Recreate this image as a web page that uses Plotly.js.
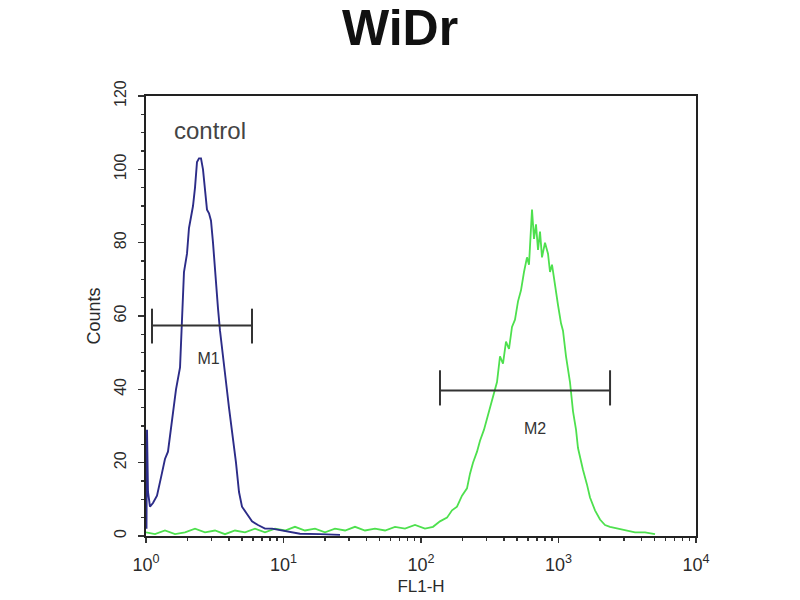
<!DOCTYPE html>
<html>
<head>
<meta charset="utf-8">
<script src="https://cdn.plot.ly/plotly-3.0.1.min.js"></script>
<style>html,body{margin:0;padding:0;background:#fff;}#chart{width:800px;height:600px;}</style>
</head>
<body>
<div id="chart"></div>
<script>
// Control histogram (blue)
var controlX = [1.008, 1.017, 1.034, 1.069, 1.124, 1.202, 1.286, 1.374, 1.445, 1.546, 1.653, 1.768, 1.827, 1.889, 1.987, 2.054, 2.125, 2.197, 2.272, 2.349, 2.429, 2.512, 2.597, 2.686, 2.777, 2.872, 2.970, 3.071, 3.175, 3.340, 3.453, 3.631, 3.818, 4.014, 4.293, 4.513, 4.747, 4.991, 5.427, 5.902, 6.524, 7.336, 8.250, 9.430, 11.15, 13.18, 18.43, 25.76];
var controlY = [2, 29, 12, 8, 9, 11, 16, 21, 23, 32, 40, 46, 60, 72, 77, 84, 87, 90, 95, 102, 103, 103, 100, 95, 89, 88, 86, 80, 72, 62, 56, 48, 42, 35, 27, 20, 12, 8, 6, 4, 3, 2, 2, 1.6, 1, 0.6, 0.5, 0.3];

// Sample histogram (green)
var sampleX = [1.00, 1.163, 1.374, 1.625, 1.921, 2.272, 2.686, 3.175, 3.754, 4.438, 5.248, 6.204, 7.336, 8.675, 10.25, 12.12, 14.33, 16.95, 20.04, 23.69, 28.02, 33.11, 39.15, 46.29, 54.73, 64.71, 76.48, 90.44, 106.9, 122.3, 137.4, 154.6, 168.1, 182.7, 198.7, 216.0, 227.2, 238.9, 255.5, 268.6, 287.2, 302.0, 317.6, 333.9, 357.1, 375.4, 394.8, 415.1, 436.5, 459.0, 482.6, 507.6, 533.7, 561.2, 590.1, 610.2, 631.0, 641.7, 663.5, 686.2, 709.5, 733.7, 758.6, 797.7, 838.9, 867.5, 897.0, 943.0, 991.7, 1043, 1078, 1134, 1173, 1212, 1275, 1341, 1386, 1458, 1508, 1612, 1695, 1843, 2004, 2179, 2369, 2709, 3150, 3601, 4257, 5033];
var sampleY = [1, 0.5, 1.5, 0.5, 1, 2, 1, 1.5, 0.5, 1.5, 1, 2, 1, 2, 1.5, 2.5, 1.5, 2, 1, 2, 1.5, 2.5, 1.5, 2, 1.5, 2.5, 2, 3, 2, 2.5, 4, 5, 7, 8, 11, 13, 17, 20, 23, 26, 29, 32, 35, 38, 42, 49, 47, 53, 51, 57, 59, 64, 67, 72, 76, 74, 84, 89, 81, 85, 78, 83, 76, 80, 77, 72, 74, 68, 63, 58, 56, 49, 46, 42, 34, 29, 24, 20, 18, 14, 10.5, 7, 4.5, 3, 2.5, 2, 1.5, 1, 1, 0.5];

// Marker gates
var m1Range = [1.106, 5.90];
var m1Level = 57.4;
var m1Cap = [52.5, 62];
var m2Range = [137.4, 2371];
var m2Level = 39.7;
var m2Cap = [35.6, 45.2];

var gateLabels = ['M1', 'M2'];
var gateLabelX = [2.85, 675];
var gateLabelY = [48, 29];

var xTickVals = [1, 10, 100, 1000, 10000];
var xTickText = ['10<sup>0</sup>', '10<sup>1</sup>', '10<sup>2</sup>', '10<sup>3</sup>', '10<sup>4</sup>'];

function gate(r, lvl, cap) {
  return {
    x: [r[0], r[1], null, r[0], r[0], null, r[1], r[1]],
    y: [lvl, lvl, null, cap[0], cap[1], null, cap[0], cap[1]]
  };
}
var g1 = gate(m1Range, m1Level, m1Cap);
var g2 = gate(m2Range, m2Level, m2Cap);

var FONT = 'Liberation Sans, Arial, sans-serif';

var traces = [
  {x: sampleX, y: sampleY, type: 'scatter', mode: 'lines', line: {color: '#4ee04e', width: 1.8}, hoverinfo: 'skip'},
  {x: controlX, y: controlY, type: 'scatter', mode: 'lines', line: {color: '#2c2c88', width: 1.9}, hoverinfo: 'skip'},
  {x: g1.x, y: g1.y, type: 'scatter', mode: 'lines', line: {color: '#333', width: 2}, connectgaps: false, hoverinfo: 'skip'},
  {x: g2.x, y: g2.y, type: 'scatter', mode: 'lines', line: {color: '#333', width: 2}, connectgaps: false, hoverinfo: 'skip'},
  {x: gateLabelX, y: gateLabelY, type: 'scatter', mode: 'text',
   text: gateLabels, textfont: {family: FONT, size: 16, color: '#333'}, hoverinfo: 'skip'}
];

var layout = {
  width: 800, height: 600,
  margin: {l: 146, r: 104, t: 96, b: 64},
  paper_bgcolor: '#fff', plot_bgcolor: '#fff',
  showlegend: false,
  title: {text: '<b>WiDr</b>', x: 0.5, xanchor: 'center', y: 0.955, yanchor: 'middle',
          font: {family: FONT, size: 50, color: '#111'}},
  font: {family: FONT, color: '#333'},
  xaxis: {
    type: 'log', range: [0, 4],
    tickvals: xTickVals, ticktext: xTickText,
    ticks: 'outside', ticklen: 5, tickcolor: '#333', tickwidth: 1.5,
    ticklabelstandoff: 6,
    minor: {ticks: 'outside', ticklen: 3, tickcolor: '#333', dtick: 'D1'},
    showline: true, linecolor: '#222', linewidth: 2, mirror: true,
    showgrid: false, zeroline: false,
    tickfont: {family: FONT, size: 18, color: '#2a2a2a'},
    title: {text: 'FL1-H', font: {family: FONT, size: 17, color: '#2a2a2a'}, standoff: 7}
  },
  yaxis: {
    range: [0, 120], dtick: 20, tick0: 0,
    tickangle: -90,
    ticks: 'outside', ticklen: 6, tickcolor: '#333', tickwidth: 1.5,
    ticklabelstandoff: 6,
    minor: {ticks: 'outside', ticklen: 3, tickcolor: '#333', dtick: 5},
    showline: true, linecolor: '#222', linewidth: 2, mirror: true,
    showgrid: false, zeroline: false,
    tickfont: {family: FONT, size: 16, color: '#2a2a2a'},
    title: {text: 'Counts', font: {family: FONT, size: 18, color: '#2a2a2a'}, standoff: 6}
  },
  annotations: [
    {x: Math.log10(2.9), y: 110.5, xref: 'x', yref: 'y', text: 'control', showarrow: false,
     font: {family: FONT, size: 24, color: '#444'}}
  ]
};

Plotly.newPlot('chart', traces, layout, {displayModeBar: false, staticPlot: true});
</script>
</body>
</html>
